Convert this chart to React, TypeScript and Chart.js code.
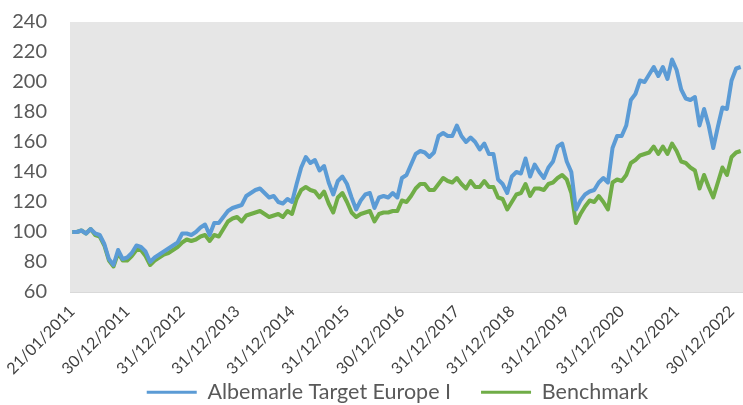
import { useEffect, useRef } from "react";
import { Chart, registerables } from "chart.js";

Chart.register(...registerables);

// Tick labels shown every 12 months on the category axis
const TICK_LABELS = [
  "21/01/2011", "30/12/2011", "31/12/2012", "31/12/2013", "31/12/2014",
  "31/12/2015", "30/12/2016", "31/12/2017", "31/12/2018", "31/12/2019",
  "31/12/2020", "31/12/2021", "30/12/2022",
];
const TICK_EVERY = 12;

const SERIES_NAMES = ["Albemarle Target Europe I", "Benchmark"];

// Monthly values (index 0 = 21/01/2011)
const FUND = [
  100, 100, 101, 99, 102, 99, 98, 92, 82, 78, 88, 82,
  83, 86, 91, 90, 87, 80, 83, 85, 87, 89, 91, 93,
  99, 99, 98, 100, 103, 105, 98, 106, 106, 110, 114, 116,
  117, 118, 124, 126, 128, 129, 126, 123, 124, 120, 119, 122,
  120, 132, 143, 150, 146, 148, 141, 144, 133, 125, 134, 137,
  132, 123, 115, 121, 125, 126, 116, 123, 124, 123, 126, 123,
  136, 138, 145, 152, 154, 153, 150, 153, 164, 166, 164, 164,
  171, 164, 160, 163, 160, 155, 159, 152, 152, 135, 132, 126,
  137, 140, 139, 149, 137, 145, 140, 136, 143, 147, 157, 159,
  147, 140, 115, 121, 125, 127, 128, 133, 136, 133, 156, 164,
  164, 171, 188, 192, 201, 200, 205, 210, 204, 210, 202, 215,
  208, 195, 189, 188, 190, 171, 182, 171, 156, 170, 183, 182,
  201, 209, 210,
];

const BENCHMARK = [
  100, 100, 101, 99, 102, 98, 97, 91, 81, 77, 86, 81,
  81, 84, 88, 88, 84, 78, 81, 83, 85, 86, 88, 90,
  93, 95, 94, 95, 97, 98, 94, 98, 97, 102, 107, 109,
  110, 107, 111, 112, 113, 114, 112, 110, 111, 112, 110, 114,
  112, 122, 128, 130, 128, 127, 123, 127, 119, 113, 123, 126,
  120, 113, 110, 112, 113, 114, 107, 112, 113, 113, 114, 114,
  121, 120, 124, 129, 132, 132, 128, 128, 132, 136, 134, 133,
  136, 132, 129, 134, 130, 130, 134, 130, 130, 123, 122, 115,
  120, 125, 126, 132, 124, 129, 129, 128, 132, 133, 136, 138,
  135, 126, 106, 112, 117, 121, 120, 124, 120, 115, 133, 135,
  134, 138, 146, 148, 151, 152, 153, 157, 152, 157, 152, 159,
  154, 147, 146, 143, 141, 129, 138, 130, 123, 133, 143, 138,
  150, 153, 154,
];

const Y_MIN = 60;
const Y_MAX = 240;
const Y_STEP = 20;

const CATEGORIES = FUND.map((_, i) =>
  i % TICK_EVERY === 0 && TICK_LABELS[i / TICK_EVERY] ? TICK_LABELS[i / TICK_EVERY] : ""
);

const plotBg = {
  id: "plotBg",
  beforeDraw(chart: any) {
    const { ctx, chartArea } = chart;
    if (!chartArea) return;
    ctx.save();
    ctx.fillStyle = "#e6e6e6";
    ctx.fillRect(chartArea.left, chartArea.top, chartArea.right - chartArea.left, chartArea.bottom - chartArea.top);
    ctx.restore();
  },
};

export default function App() {
  const ref = useRef<HTMLCanvasElement | null>(null);

  useEffect(() => {
    if (!ref.current) return;
    Chart.defaults.font.family = "Lato, 'Open Sans', sans-serif";
    const chart = new Chart(ref.current, {
      type: "line",
      data: {
        labels: CATEGORIES,
        datasets: [
          {
            label: SERIES_NAMES[0],
            data: FUND,
            borderColor: "#5B9BD5",
            backgroundColor: "#5B9BD5",
            borderWidth: 4,
            pointRadius: 0,
            tension: 0,
            fill: false,
            borderJoinStyle: "round",
          },
          {
            label: SERIES_NAMES[1],
            data: BENCHMARK,
            borderColor: "#70AD47",
            backgroundColor: "#70AD47",
            borderWidth: 4,
            pointRadius: 0,
            tension: 0,
            fill: false,
            borderJoinStyle: "round",
          },
        ],
      },
      options: {
        responsive: false,
        animation: false,
        events: [],
        layout: { padding: { top: 22, right: 0, bottom: -8, left: 52 } },
        scales: {
          x: {
            offset: true,
            grid: { display: false, drawTicks: false },
            border: { display: true, color: "#d9d9d9", width: 1 },
            ticks: {
              autoSkip: false,
              maxRotation: 45,
              minRotation: 45,
              padding: 10,
              color: "#404040",
              font: { size: 16 },
              callback: (_v: any, i: number) => CATEGORIES[i] || null,
            },
            afterFit(s: any) {
              s.height = 59.5;
              s.paddingLeft = 0;
              s.paddingRight = 0;
              s._computeLabelArea = () => undefined;
            },
          },
          y: {
            min: Y_MIN,
            max: Y_MAX,
            grid: { display: false, drawTicks: false },
            border: { display: false },
            ticks: {
              stepSize: Y_STEP,
              padding: 23,
              color: "#595959",
              font: { size: 20 },
            },
            afterFit(s: any) {
              s.width = 18;
              s.paddingTop = 0;
              s.paddingBottom = 0;
              s._computeLabelArea = () => undefined;
            },
          },
        },
        plugins: {
          tooltip: { enabled: false },
          legend: {
            position: "bottom",
            labels: {
              boxWidth: 50,
              boxHeight: 3,
              padding: 30,
              color: "#595959",
              font: { size: 21.5 },
              generateLabels(chart: any) {
                const items = (Chart.defaults.plugins.legend.labels as any).generateLabels(chart);
                return items.map((it: any) => ({ ...it, lineWidth: 0, fillStyle: it.strokeStyle }));
              },
            },
          },
        },
      },
      plugins: [plotBg],
    } as any);
    return () => chart.destroy();
  }, []);

  return (
    <div style={{ position: "fixed", left: 0, top: 0, width: 743, height: 405, background: "#fff" }}>
      <canvas ref={ref} width={743} height={405} style={{ display: "block" }} />
    </div>
  );
}
